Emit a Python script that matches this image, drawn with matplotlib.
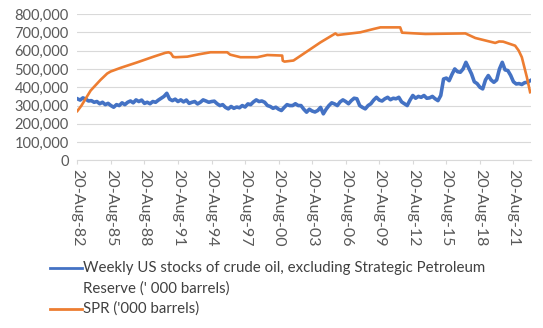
import numpy as np
import matplotlib
matplotlib.use("Agg")
from matplotlib import pyplot as plt
from matplotlib.lines import Line2D

plt.rcParams['font.family'] = ['Lato', 'DejaVu Sans']

# weekly US crude stocks excl. SPR, read off the chart roughly once per quarter ('000 barrels)
stocks_start = 1982.63
stocks_step = 0.25
stocks = [
    337, 330, 342, 335, 325, 327, 318, 322, 310, 318, 305, 312, 300, 291, 305, 300,
    315, 305, 318, 325, 315, 331, 322, 330, 312, 318, 310, 322, 318, 330, 340, 350,
    367, 335, 327, 335, 322, 331, 320, 330, 312, 318, 322, 309, 318, 331, 325, 318,
    322, 324, 310, 300, 305, 290, 282, 295, 285, 292, 288, 300, 292, 309, 305, 320,
    331, 322, 325, 318, 300, 295, 285, 291, 280, 273, 290, 305, 300, 300, 310, 300,
    300, 280, 264, 280, 270, 265, 273, 290, 255, 280, 300, 315, 309, 300, 320, 331,
    322, 310, 327, 340, 337, 300, 290, 282, 300, 310, 330, 345, 330, 325, 337, 345,
    332, 340, 337, 345, 320, 310, 300, 330, 355, 340, 350, 345, 355, 340, 342, 350,
    337, 327, 355, 445, 450, 436, 470, 500, 485, 482, 500, 536, 505, 473, 430, 420,
    400, 391, 440, 464, 440, 427, 440, 500, 536, 495, 491, 465, 430, 418, 420, 415,
    425, 427, 436,
]

# SPR, turning points of the orange line
spr_years = [1982.63, 1983.0, 1983.82, 1984.7, 1985.3, 1985.61, 1986.5, 1987.99, 1989.45,
             1990.5, 1990.79, 1991.0, 1991.2, 1991.42, 1992.46, 1993.5, 1994.54, 1996.03,
             1996.3, 1997.22, 1998.72, 1999.61, 2000.95, 2001.0, 2001.16, 2001.96, 2003.18,
             2004.37, 2005.71, 2005.9, 2006.15, 2007.94, 2009.11, 2009.73, 2011.5, 2011.67,
             2013.76, 2017.33, 2018.22, 2020.0, 2020.35, 2020.71, 2021.78, 2022.1, 2022.38,
             2022.83, 2023.12]
spr = [270, 300, 382, 440, 475, 486, 506, 536, 567,
       588, 591, 585, 566, 564, 567, 580, 591, 591,
       578, 564, 564, 576, 573, 545, 540, 546, 596,
       645, 694, 685, 687, 700, 718, 727, 727, 698,
       691, 694, 669, 642, 650, 649, 627, 600, 564,
       455, 373]

tick_years = [1982, 1985, 1988, 1991, 1994, 1997, 2000, 2003, 2006, 2009, 2012, 2015, 2018, 2021]
tick_labels = ["20-Aug-%02d" % (y % 100) for y in tick_years]

label_stocks = "Weekly US stocks of crude oil, excluding Strategic Petroleum\nReserve (' 000 barrels)"
label_spr = "SPR ('000 barrels)"

blue = "#4472C4"
orange = "#ED7D31"
text_col = "#404040"

stocks_x = stocks_start + stocks_step * np.arange(len(stocks))

fig = plt.figure(figsize=(5.43, 3.28), dpi=100)
ax = fig.add_axes([77 / 543, 1 - 160.5 / 328, 454 / 543, 146.5 / 328])

ax.plot(stocks_x, np.array(stocks) * 1000, color=blue, lw=2.6)
ax.plot(spr_years, np.array(spr) * 1000, color=orange, lw=1.9)

ax.set_xlim(1982.6, 2023.2)
ax.set_ylim(0, 800000)
ax.set_yticks(np.arange(0, 800001, 100000))
ax.yaxis.set_major_formatter(matplotlib.ticker.FuncFormatter(lambda v, p: "{:,.0f}".format(v)))
ax.set_xticks([y + 0.633 for y in tick_years])
ax.set_xticklabels(tick_labels, rotation=270)
ax.grid(axis="y", color="#D9D9D9", lw=0.8)
ax.set_axisbelow(True)
for s in ["top", "right", "left"]:
    ax.spines[s].set_visible(False)
ax.spines["bottom"].set_color("#D9D9D9")
ax.tick_params(axis="y", length=0, labelsize=10.5, labelcolor="#595959", pad=6)
ax.tick_params(axis="x", length=3, color="#D9D9D9", labelsize=11.5, labelcolor="#595959", pad=3)

# legend drawn by hand so the handle sits on the first line of the wrapped label
def legend_entry(y_px, color, text):
    y = 1 - y_px / 328
    fig.add_artist(Line2D([50 / 543, 82 / 543], [y, y], color=color, lw=2, transform=fig.transFigure))
    for i, line in enumerate(text.split("\n")):
        fig.text(83 / 543, 1 - (y_px + 20.5 * i) / 328, line, va="center", ha="left",
                 fontsize=10.8, color=text_col)

legend_entry(268, blue, label_stocks)
legend_entry(309, orange, label_spr)

fig.savefig("out.png", dpi=100)
